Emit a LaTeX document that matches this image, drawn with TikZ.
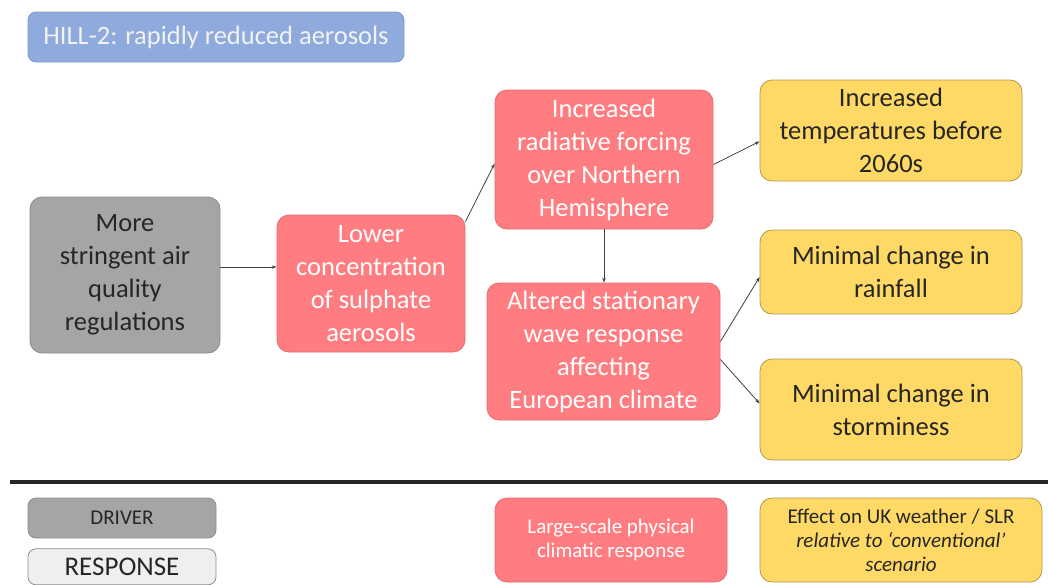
\documentclass[tikz,border=0pt]{standalone}
\usepackage{fontspec}
\setmainfont{Carlito}
\usepackage{xcolor}
\usepackage{tikz}
\usetikzlibrary{positioning}
\usetikzlibrary{arrows.meta}
\definecolor{hillblue}{HTML}{8FAADC}
\definecolor{drivergrey}{HTML}{A5A5A5}
\definecolor{physred}{HTML}{FF7C80}
\definecolor{effectyellow}{HTML}{FFD966}
\definecolor{responsegrey}{HTML}{EFEFEF}
\definecolor{textdark}{HTML}{262626}
\definecolor{linkgrey}{HTML}{404040}
\tikzset{
  box/.style={
    rounded corners=12pt, align=center, inner sep=0pt, line width=0.8pt,
    font=\fontsize{26.5}{33}\selectfont,
  },
  driver/.style={box, fill=drivergrey, draw=drivergrey!85!black, text=textdark},
  physical/.style={box, fill=physred, draw=physred!88!black, text=white},
  effect/.style={box, fill=effectyellow, draw=effectyellow!70!black, text=textdark},
  link/.style={draw=linkgrey, line width=0.8pt, -{Stealth[length=5pt,width=3.5pt]}},
}

\begin{document}
\begin{tikzpicture}[x=1pt, y=-1pt]

  \useasboundingbox (0,0) rectangle (1048,584);

  % Define nodes
  \node[box, fill=hillblue, draw=hillblue!90!black, text=white!95!black,
        minimum width=376pt, minimum height=50pt, rounded corners=8pt] (title) at (216,37)
        {HILL-2: rapidly reduced aerosols};

  \node[driver, minimum width=190pt, minimum height=156pt] (more) at (125,275)
        {More\\stringent air\\quality\\regulations};

  \node[physical, minimum width=188pt, minimum height=137pt] (lower) at (371,283.5)
        {Lower\\concentration\\of sulphate\\aerosols};
  \node[physical, minimum width=218pt, minimum height=139pt] (forcing) at (604,159.5)
        {Increased\\radiative forcing\\over Northern\\Hemisphere};
  \node[physical, minimum width=233pt, minimum height=137pt] (wave) at (603.5,351.5)
        {Altered stationary\\wave response\\affecting\\European climate};

  \node[effect, minimum width=262pt, minimum height=101pt] (temps) at (891,130.5)
        {Increased\\temperatures before\\2060s};
  \node[effect, minimum width=262pt, minimum height=84pt] (rainfall) at (891,272)
        {Minimal change in\\rainfall};
  \node[effect, minimum width=262pt, minimum height=101pt] (storm) at (891,409.5)
        {Minimal change in\\storminess};

  % Legend
  \coordinate (rule_l) at (10,482);
  \coordinate (rule_r) at (1048,482);
  \draw[textdark, line width=4pt] (rule_l) -- (rule_r);

  \node[driver, minimum width=188pt, minimum height=40pt, rounded corners=8pt,
        font=\fontsize{21}{24}\selectfont] (key_driver) at (122,518) {DRIVER};
  \node[box, fill=responsegrey, draw=black!45, text=textdark, minimum width=188pt,
        minimum height=36pt, rounded corners=8pt, font=\fontsize{27}{30}\selectfont,
        below=10pt of key_driver] (key_response) {RESPONSE};
  \node[physical, minimum width=232pt, minimum height=84pt,
        font=\fontsize{21}{24}\selectfont] (key_physical) at (611,540)
        {Large-scale physical\\climatic response};
  \node[effect, minimum width=282pt, minimum height=84pt,
        font=\fontsize{21}{24}\selectfont] (key_effect) at (901,540)
        {Effect on UK weather / SLR\\\textit{relative to `conventional'}\\\textit{scenario}};

  % Connect nodes
  \draw[link] ([yshift=8pt]more.east) -- ([yshift=8pt]more.east -| lower.west);
  \draw[link] ([yshift=-7pt]lower.north east) -- ([yshift=-4pt]forcing.west);
  \draw[link] (forcing.south) -- (forcing.south |- wave.north);
  \draw[link] ([yshift=-5pt]forcing.east) -- ([yshift=-11pt]temps.west);
  \draw[link] ([yshift=10pt]wave.east) -- ([yshift=-5pt]rainfall.west);
  \draw[link] ([yshift=-8pt]wave.east) -- ([yshift=6pt]storm.west);

\end{tikzpicture}
\end{document}
